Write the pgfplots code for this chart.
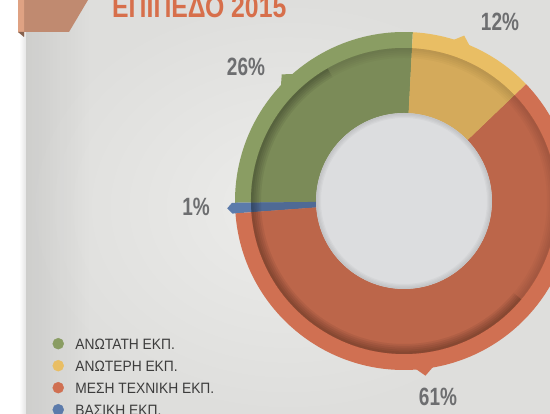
\documentclass[border=0pt]{standalone}
\usepackage{pgfplots}
\pgfplotsset{compat=1.18}
\usepackage{pgfplotstable}
\usetikzlibrary{fadings}
\usepackage{fontspec}
\setmainfont{Liberation Sans}
\usepackage{graphicx}

\definecolor{cgreen}{HTML}{8A9D63}
\definecolor{cgreenD}{HTML}{7B8B58}
\definecolor{cyellow}{HTML}{E9BE64}
\definecolor{cyellowD}{HTML}{D4AA5B}
\definecolor{corange}{HTML}{D07052}
\definecolor{corangeD}{HTML}{BC664A}
\definecolor{cblue}{HTML}{5C7BAB}
\definecolor{cblueD}{HTML}{4F6A95}
\definecolor{chole}{HTML}{DCDDDF}
\definecolor{cbg}{HTML}{DEDEDC}
\definecolor{cbgL}{HTML}{ECECEA}
\definecolor{clabel}{HTML}{6D6E70}
\definecolor{ctitle}{HTML}{D76F4B}
\definecolor{cbanner}{HTML}{C08A70}
\definecolor{cbannerL}{HTML}{DFA283}
\definecolor{clegend}{HTML}{3C3C3C}

% share of each education level, 2015 (%)
\pgfplotstableread{
idx value
0 26
1 1
2 61
3 12
}\datatable

\newcommand\ringseg[5]{% colour, start angle, end angle, inner r, outer r
  \fill[#1] (axis cs:{\cx+#5*cos(#2)},{\cy+#5*sin(#2)})
    arc[start angle=#2, end angle=#3, radius=#5pt]
    -- (axis cs:{\cx+#4*cos(#3)},{\cy+#4*sin(#3)})
    arc[start angle=#3, end angle=#2, radius=#4pt] -- cycle;}
\newcommand\pointer[2]{% colour, angle
  \fill[#1] (axis cs:{\cx+166*cos(#2-4)},{\cy+166*sin(#2-4)})
    -- (axis cs:{\cx+176*cos(#2)},{\cy+176*sin(#2)})
    -- (axis cs:{\cx+166*cos(#2+4)},{\cy+166*sin(#2+4)}) -- cycle;}
\def\cx{404}
\def\cy{213}

\begin{document}
\begin{tikzpicture}
\pgfplotstablegetelem{0}{value}\of\datatable \pgfmathsetmacro\vA{\pgfplotsretval}
\pgfplotstablegetelem{1}{value}\of\datatable \pgfmathsetmacro\vB{\pgfplotsretval}
\pgfplotstablegetelem{2}{value}\of\datatable \pgfmathsetmacro\vC{\pgfplotsretval}
\pgfplotstablegetelem{3}{value}\of\datatable \pgfmathsetmacro\vD{\pgfplotsretval}
\pgfmathsetmacro\aS{87}
\pgfmathsetmacro\aA{\aS+3.6*\vA}
\pgfmathsetmacro\aB{\aA+3.6*\vB}
\pgfmathsetmacro\aC{\aB+3.6*\vC}
\pgfmathsetmacro\aD{\aC+3.6*\vD}
\path[use as bounding box] (0,0) rectangle (550pt,414pt);
\clip (0,0) rectangle (550pt,414pt);
\begin{axis}[
  at={(0,0)}, anchor=south west,
  x=1pt, y=1pt, xmin=0, xmax=550, ymin=0, ymax=414,
  xtick=\empty, ytick=\empty,
  hide axis, clip=true,
  legend cell align=left,
  legend style={at={(0.0955,0.1836)}, anchor=north west, draw=none, fill=none,
    inner sep=0pt, outer sep=0pt, row sep=10.6pt, column sep=11.5pt,
    font=\fontsize{15}{15}\selectfont, text=clegend,
    nodes={inner sep=0pt, text height=11pt, text depth=0pt, anchor=base west}},
]
% background
\fill[white] (axis cs:0,0) rectangle (axis cs:550,414);
\shade[inner color=cbgL, outer color=cbg] (axis cs:26,0) rectangle (axis cs:550,414);
\fill[black, opacity=0.07, path fading=east] (axis cs:26,0) rectangle (axis cs:90,414);
\fill[black, opacity=0.10, path fading=west] (axis cs:19,0) rectangle (axis cs:26,414);
% banner and title
\fill[cbanner] (axis cs:18,414) -- (axis cs:88,414) -- (axis cs:69,382) -- (axis cs:18,382) -- cycle;
\fill[cbannerL] (axis cs:18,414) -- (axis cs:24,414) -- (axis cs:24,378) -- (axis cs:18,382) -- cycle;
\fill[cbanner!70!black] (axis cs:18,382) -- (axis cs:24,382) -- (axis cs:24,377) -- cycle;
\node[anchor=base west, inner sep=0pt, text=ctitle, font=\fontsize{30}{30}\selectfont\bfseries]
  at (axis cs:112,396) {\scalebox{0.826}[1]{ΕΠΙΠΕΔΟ 2015}};
% pointers
\pointer{cgreen}{134}
\pointer{cyellow}{70}
\pointer{corange}{277}
\fill[cblue] (axis cs:{\cx+166*cos(\aA)},{\cy+166*sin(\aA)})
  -- (axis cs:{\cx+172*cos(\aA)},{\cy+172*sin(\aA)})
  -- (axis cs:{\cx+177*cos((\aA+\aB)/2)},{\cy+177*sin((\aA+\aB)/2)})
  -- (axis cs:{\cx+172*cos(\aB)},{\cy+172*sin(\aB)})
  -- (axis cs:{\cx+166*cos(\aB)},{\cy+166*sin(\aB)}) -- cycle;
% outer ring
\ringseg{cgreen}{\aS}{\aA}{88}{169}
\ringseg{cblue}{\aA}{\aB}{88}{169}
\ringseg{corange}{\aB}{\aC}{88}{169}
\ringseg{cyellow}{\aC}{\aD}{88}{169}
% inner darker ring
\ringseg{cgreenD}{\aS}{\aA}{88}{153}
\ringseg{cblueD}{\aA}{\aB}{88}{153}
\ringseg{corangeD}{\aB}{\aC}{88}{153}
\ringseg{cyellowD}{\aC}{\aD}{88}{153}
% shadow under the outer rim (stronger on the lower left)
\pgfplotsinvokeforeach{0,...,4}{
  \draw[black, opacity=0.025, line width={10pt-1.9pt*#1}]
    (axis cs:\cx,\cy) circle[radius={153pt-(10pt-1.9pt*#1)/2}];
  \draw[black, opacity=0.035, line width={10pt-1.9pt*#1}]
    (axis cs:{\cx+(153-(10-1.9*#1)/2)*cos(120)},{\cy+(153-(10-1.9*#1)/2)*sin(120)})
    arc[start angle=120, end angle=320, radius={153pt-(10pt-1.9pt*#1)/2}];
}
% hole
\fill[chole] (axis cs:\cx,\cy) circle[radius=88pt];
\pgfplotsinvokeforeach{0,...,3}{
  \draw[black, opacity=0.028, line width={5pt-1.2pt*#1}]
    (axis cs:\cx,\cy) circle[radius={88pt-(5pt-1.2pt*#1)/2}];
}
% percentage labels
\node[text=clabel, inner sep=0pt, font=\fontsize{25}{25}\selectfont\bfseries] at (axis cs:246,347) {\scalebox{0.76}[1]{26\%}};
\node[text=clabel, inner sep=0pt, font=\fontsize{25}{25}\selectfont\bfseries] at (axis cs:500,392) {\scalebox{0.76}[1]{12\%}};
\node[text=clabel, inner sep=0pt, font=\fontsize{25}{25}\selectfont\bfseries] at (axis cs:196,207) {\scalebox{0.76}[1]{1\%}};
\node[text=clabel, inner sep=0pt, font=\fontsize{25}{25}\selectfont\bfseries] at (axis cs:438,17) {\scalebox{0.76}[1]{61\%}};
% legend
\addlegendimage{legend image code/.code={\fill[cgreen] (5.5pt,5.5pt) circle[radius=5.5pt];}}
\addlegendentry{\scalebox{0.92}[1]{ΑΝΩΤΑΤΗ ΕΚΠ.}}
\addlegendimage{legend image code/.code={\fill[cyellow] (5.5pt,5.5pt) circle[radius=5.5pt];}}
\addlegendentry{\scalebox{0.92}[1]{ΑΝΩΤΕΡΗ ΕΚΠ.}}
\addlegendimage{legend image code/.code={\fill[corange] (5.5pt,5.5pt) circle[radius=5.5pt];}}
\addlegendentry{\scalebox{0.92}[1]{ΜΕΣΗ ΤΕΧΝΙΚΗ ΕΚΠ.}}
\addlegendimage{legend image code/.code={\fill[cblue] (5.5pt,5.5pt) circle[radius=5.5pt];}}
\addlegendentry{\scalebox{0.92}[1]{ΒΑΣΙΚΗ ΕΚΠ.}}
\end{axis}
\end{tikzpicture}
\end{document}
